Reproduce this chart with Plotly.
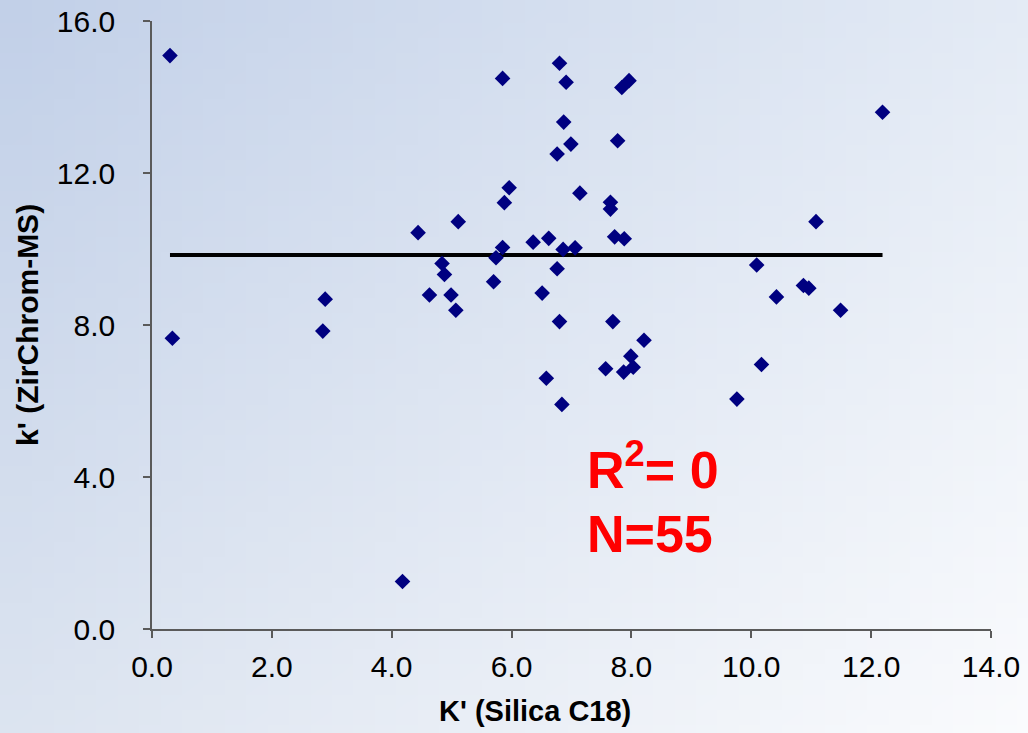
import base64
import struct
import zlib

import numpy as np
import plotly.graph_objects as go

# ---------------- data ----------------
k_silica = [0.30, 5.85, 6.80, 6.91, 6.87, 6.99, 6.76, 5.96, 5.88, 7.14,
            5.11, 4.44, 6.36, 6.62, 5.85, 5.74, 6.86, 7.06, 4.84, 4.88,
            5.70, 6.76, 4.63, 4.99, 5.07, 6.51, 2.89, 2.85, 6.80, 7.84,
            7.96, 12.19, 7.77, 7.65, 7.65, 7.72, 7.88, 11.08, 10.09, 10.42,
            10.87, 10.96, 11.49, 7.69, 0.34, 6.58, 6.84, 4.18, 8.21, 7.99,
            8.03, 7.57, 7.87, 10.17, 9.76]
k_zirchrom = [15.09, 14.49, 14.89, 14.39, 13.34, 12.76, 12.50, 11.61, 11.22, 11.47,
              10.72, 10.43, 10.18, 10.28, 10.04, 9.77, 9.99, 10.03, 9.62, 9.33,
              9.14, 9.48, 8.79, 8.79, 8.39, 8.84, 8.68, 7.84, 8.09, 14.25,
              14.43, 13.60, 12.85, 11.23, 11.05, 10.32, 10.27, 10.72, 9.58, 8.74,
              9.04, 8.97, 8.39, 8.09, 7.65, 6.60, 5.91, 1.25, 7.60, 7.18,
              6.89, 6.85, 6.76, 6.96, 6.05]
x_ticks = [0, 2, 4, 6, 8, 10, 12, 14]
y_ticks = [0, 4, 8, 12, 16]
r2_label = "R<sup>2</sup>= 0"
n_label = "N=%d" % len(k_silica)

# flat trend line (R^2 = 0): mean level across the data's x extent
trend_level = float(np.mean(k_zirchrom))
trend_x = [min(k_silica), max(k_silica)]
trend_y = [trend_level, trend_level]

# ---------------- background gradient image ----------------
def gradient_png(w, h, tl, tr, bl, br):
    rows = []
    for j in range(h):
        v = j / (h - 1)
        row = bytearray([0])
        for i in range(w):
            u = i / (w - 1)
            px = []
            for c in range(3):
                top = tl[c] * (1 - u) + tr[c] * u
                bot = bl[c] * (1 - u) + br[c] * u
                px.append(int(round(top * (1 - v) + bot * v)))
            row.extend(px)
        rows.append(bytes(row))
    raw = b"".join(rows)

    def chunk(tag, data):
        return (struct.pack(">I", len(data)) + tag + data +
                struct.pack(">I", zlib.crc32(tag + data) & 0xFFFFFFFF))

    ihdr = struct.pack(">IIBBBBB", w, h, 8, 2, 0, 0, 0)
    png = (b"\x89PNG\r\n\x1a\n" + chunk(b"IHDR", ihdr) +
           chunk(b"IDAT", zlib.compress(raw, 9)) + chunk(b"IEND", b""))
    return "data:image/png;base64," + base64.b64encode(png).decode()


bg_src = gradient_png(48, 48, (194, 208, 232), (228, 235, 245),
                      (220, 228, 240), (250, 251, 253))

W, H = 1028, 733
ML, MR, MT, MB = 152, 37, 21, 104
PW, PH = W - ML - MR, H - MT - MB

FONT = "Liberation Sans, Arial, sans-serif"
AXIS_COLOR = "#5a5a5a"

fig = go.Figure()

fig.add_trace(go.Scatter(
    x=trend_x, y=trend_y, mode="lines",
    line=dict(color="black", width=4),
    hoverinfo="skip", showlegend=False,
))

fig.add_trace(go.Scatter(
    x=k_silica, y=k_zirchrom, mode="markers",
    marker=dict(symbol="diamond", size=12, color="#000080",
                line=dict(width=0)),
    showlegend=False,
))

fig.update_layout(
    width=W, height=H,
    margin=dict(l=ML, r=MR, t=MT, b=MB, pad=0, autoexpand=False),
    paper_bgcolor="#e6ebf4",
    plot_bgcolor="rgba(0,0,0,0)",
    font=dict(family=FONT, color="black"),
    showlegend=False,
    images=[dict(
        source=bg_src, xref="paper", yref="paper",
        x=-ML / PW, y=1 + MT / PH, sizex=W / PW, sizey=H / PH,
        xanchor="left", yanchor="top", sizing="stretch", layer="below",
    )],
    xaxis=dict(
        range=[0, 14], tickvals=x_ticks, tickformat=".1f",
        showgrid=False, zeroline=False, automargin=False,
        showline=True, linecolor=AXIS_COLOR, linewidth=1.5,
        ticks="outside", ticklen=7, tickwidth=1.5, tickcolor=AXIS_COLOR,
        tickfont=dict(size=30, family=FONT, color="black"),
        ticklabelstandoff=3,
    ),
    yaxis=dict(
        range=[0, 16], tickvals=y_ticks, tickformat=".1f",
        showgrid=False, zeroline=False, automargin=False,
        showline=True, linecolor=AXIS_COLOR, linewidth=1.5,
        ticks="outside", ticklen=7, tickwidth=1.5, tickcolor=AXIS_COLOR,
        tickfont=dict(size=30, family=FONT, color="black"),
        ticklabelstandoff=22,
    ),
    annotations=[
        dict(text="<b>K' (Silica C18)</b>", xref="paper", yref="paper",
             x=(535 - ML) / PW, y=-(711 - (H - MB)) / PH,
             xanchor="center", yanchor="middle", showarrow=False,
             font=dict(size=29, family=FONT, color="black")),
        dict(text="<b>k' (ZirChrom-MS)</b>", xref="paper", yref="paper",
             x=(27 - ML) / PW, y=0.5, textangle=-90,
             xanchor="center", yanchor="middle", showarrow=False,
             font=dict(size=30, family=FONT, color="black")),
        dict(text="<b>" + r2_label + "</b>", xref="x", yref="y",
             x=7.22, y=4.30, xanchor="left", yanchor="middle",
             showarrow=False,
             font=dict(size=52, family=FONT, color="#ff0000")),
        dict(text="<b>" + n_label + "</b>", xref="x", yref="y",
             x=7.22, y=2.49, xanchor="left", yanchor="middle",
             showarrow=False,
             font=dict(size=52, family=FONT, color="#ff0000")),
    ],
)

fig.write_html(
    "out.html",
    config={"displayModeBar": False},
    post_script="document.body.style.margin='0';"
                "document.body.style.padding='0';"
                "document.body.style.overflow='hidden';",
)
